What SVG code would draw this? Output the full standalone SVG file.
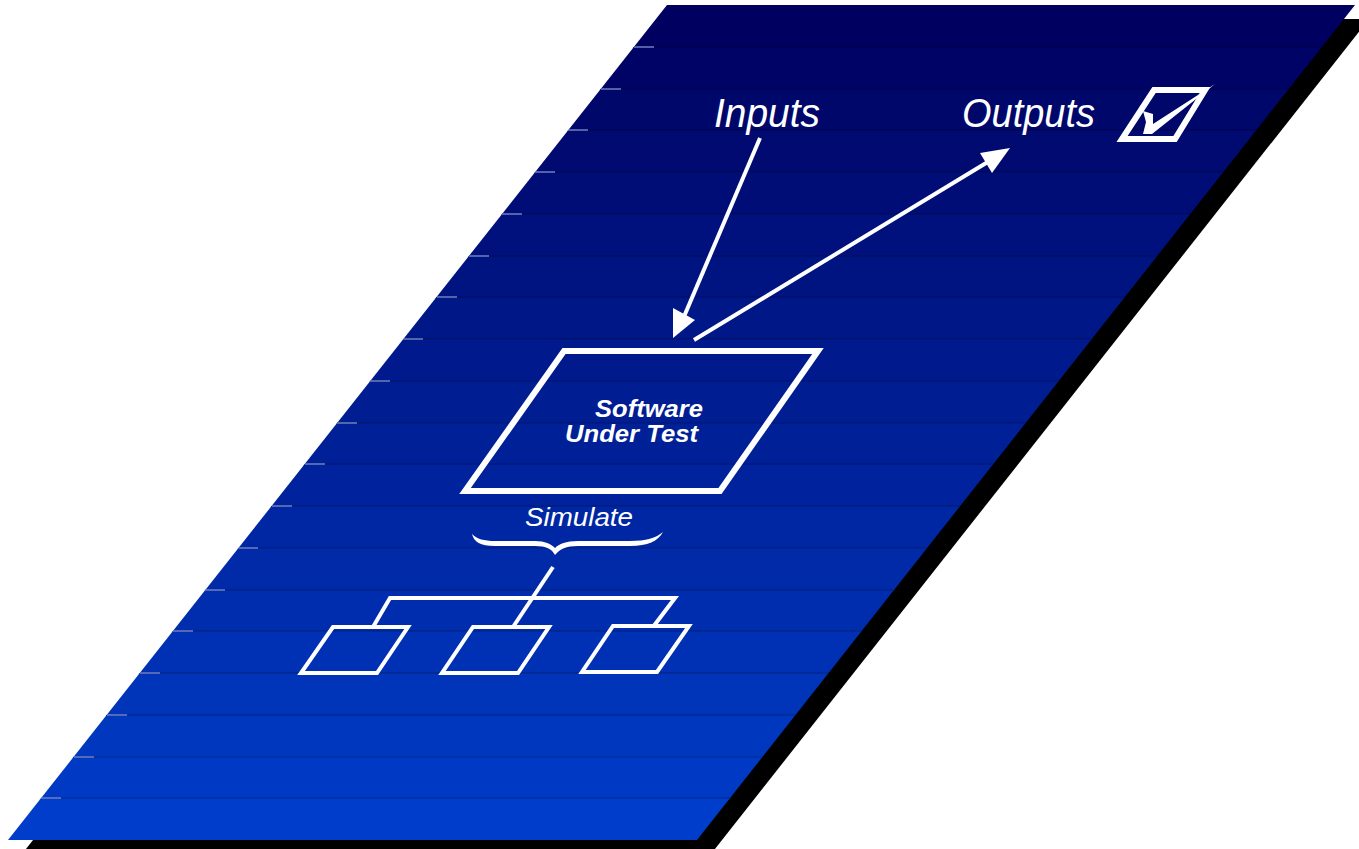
<svg xmlns="http://www.w3.org/2000/svg" width="1359" height="849" viewBox="0 0 1359 849">
<style>
.w{fill:none;stroke:#fff;stroke-linejoin:miter}
.sep{stroke:#000;stroke-opacity:0.3;stroke-width:1}
.tick{stroke:#7080c0;stroke-width:1.5}
.t{fill:#fff;font-family:"Liberation Sans",Arial,sans-serif;font-style:italic}
</style>
<defs>
<clipPath id="plane"><polygon points="667,5 1355,5 697,840 8,840"/></clipPath>
</defs>
<g id="shadow"><polygon points="681,19 1369,19 711,854 22,854" fill="#000"/></g>
<g id="plane-bg" clip-path="url(#plane)">
<rect x="0" y="5" width="1359" height="43" fill="#000060"/>
<rect x="0" y="46.75" width="1359" height="43" fill="#000366"/>
<rect x="0" y="88.5" width="1359" height="43" fill="#00076B"/>
<rect x="0" y="130.25" width="1359" height="43" fill="#000A71"/>
<rect x="0" y="172" width="1359" height="43" fill="#000D76"/>
<rect x="0" y="213.75" width="1359" height="43" fill="#00107C"/>
<rect x="0" y="255.5" width="1359" height="43" fill="#001481"/>
<rect x="0" y="297.25" width="1359" height="43" fill="#001787"/>
<rect x="0" y="339" width="1359" height="43" fill="#001A8D"/>
<rect x="0" y="380.75" width="1359" height="43" fill="#001D92"/>
<rect x="0" y="422.5" width="1359" height="43" fill="#002098"/>
<rect x="0" y="464.25" width="1359" height="43" fill="#00239D"/>
<rect x="0" y="506" width="1359" height="43" fill="#0027A3"/>
<rect x="0" y="547.75" width="1359" height="43" fill="#002AA8"/>
<rect x="0" y="589.5" width="1359" height="43" fill="#002DAE"/>
<rect x="0" y="631.25" width="1359" height="43" fill="#0030B4"/>
<rect x="0" y="673" width="1359" height="43" fill="#0034B9"/>
<rect x="0" y="714.75" width="1359" height="43" fill="#0037BF"/>
<rect x="0" y="756.5" width="1359" height="43" fill="#003AC4"/>
<rect x="0" y="798.25" width="1359" height="43" fill="#003DCA"/>
<g class="sep">
<line x1="0" y1="47" x2="1359" y2="47"/><line x1="0" y1="89" x2="1359" y2="89"/><line x1="0" y1="130" x2="1359" y2="130"/><line x1="0" y1="172" x2="1359" y2="172"/><line x1="0" y1="214" x2="1359" y2="214"/><line x1="0" y1="256" x2="1359" y2="256"/><line x1="0" y1="297" x2="1359" y2="297"/><line x1="0" y1="339" x2="1359" y2="339"/><line x1="0" y1="381" x2="1359" y2="381"/><line x1="0" y1="423" x2="1359" y2="423"/><line x1="0" y1="464" x2="1359" y2="464"/><line x1="0" y1="506" x2="1359" y2="506"/><line x1="0" y1="548" x2="1359" y2="548"/><line x1="0" y1="590" x2="1359" y2="590"/><line x1="0" y1="631" x2="1359" y2="631"/><line x1="0" y1="673" x2="1359" y2="673"/><line x1="0" y1="715" x2="1359" y2="715"/><line x1="0" y1="757" x2="1359" y2="757"/><line x1="0" y1="798" x2="1359" y2="798"/>
</g>
<g class="tick">
<line x1="634" y1="47" x2="654" y2="47"/><line x1="601" y1="89" x2="621" y2="89"/><line x1="568" y1="130" x2="588" y2="130"/><line x1="535" y1="172" x2="555" y2="172"/><line x1="502" y1="214" x2="522" y2="214"/><line x1="469" y1="256" x2="489" y2="256"/><line x1="437" y1="297" x2="457" y2="297"/><line x1="403" y1="339" x2="423" y2="339"/><line x1="370" y1="381" x2="390" y2="381"/><line x1="337" y1="423" x2="357" y2="423"/><line x1="305" y1="464" x2="325" y2="464"/><line x1="272" y1="506" x2="292" y2="506"/><line x1="238" y1="548" x2="258" y2="548"/><line x1="205" y1="590" x2="225" y2="590"/><line x1="173" y1="631" x2="193" y2="631"/><line x1="140" y1="673" x2="160" y2="673"/><line x1="107" y1="715" x2="127" y2="715"/><line x1="74" y1="757" x2="94" y2="757"/><line x1="41" y1="798" x2="61" y2="798"/>
</g>
</g>
<g id="connectors">
<line x1="760" y1="138" x2="680" y2="326" stroke="#fff" stroke-width="4"/>
<polygon points="673,338 673,308 695,320" fill="#fff"/>
<line x1="694" y1="340" x2="996" y2="157" stroke="#fff" stroke-width="4"/>
<polygon points="1010,148 980,153 992,173" fill="#fff"/>
</g>
<g id="inputs"><text class="t" x="714" y="127" font-size="41" textLength="106" lengthAdjust="spacingAndGlyphs">Inputs</text></g>
<g id="outputs"><text class="t" x="962" y="127" font-size="41" textLength="133" lengthAdjust="spacingAndGlyphs">Outputs</text></g>
<g id="checkbox">
<polygon class="w" stroke-width="6" points="1154,90 1205,90 1175,139 1122,139"/>
<polygon fill="#fff" points="1143,111 1153,114 1153,124 1215,84 1152,134 1143,134 1146,122"/>
</g>
<g id="sut">
<polygon class="w" stroke-width="6" points="564,351 818,351 720,491 465,491"/>
<text class="t" font-weight="bold" font-size="23" x="595" y="417" textLength="108" lengthAdjust="spacingAndGlyphs">Software</text>
<text class="t" font-weight="bold" font-size="23" x="565" y="442" textLength="133" lengthAdjust="spacingAndGlyphs">Under Test</text>
</g>
<g id="simulate">
<text class="t" font-size="26" x="525" y="526" textLength="108" lengthAdjust="spacingAndGlyphs">Simulate</text>
<path fill="#fff" d="M472,534 C474,542 480,546 495,546 L535,546 C546,546 552,549 555,555 C560,549 566,546 578,546 L630,546 C648,546 658,541 663,532 C656,538 646,541 630,541 L578,541 C566,541 559,544 555,548 C551,544 545,541 535,541 L495,541 C484,541 477,539 472,534 Z"/>
</g>
<g id="tree" stroke="#fff" stroke-width="4" fill="none">
<line x1="553" y1="567" x2="513" y2="627"/>
<polyline points="373,627 390,598 675,598 653,627"/>
</g>
<g id="sim1"><polygon class="w" stroke-width="4" points="333,627 408,627 377,673 301,673"/></g>
<g id="sim2"><polygon class="w" stroke-width="4" points="473,627 549,627 518,673 442,673"/></g>
<g id="sim3"><polygon class="w" stroke-width="4" points="613,626 689,626 657,672 582,672"/></g>
</svg>
